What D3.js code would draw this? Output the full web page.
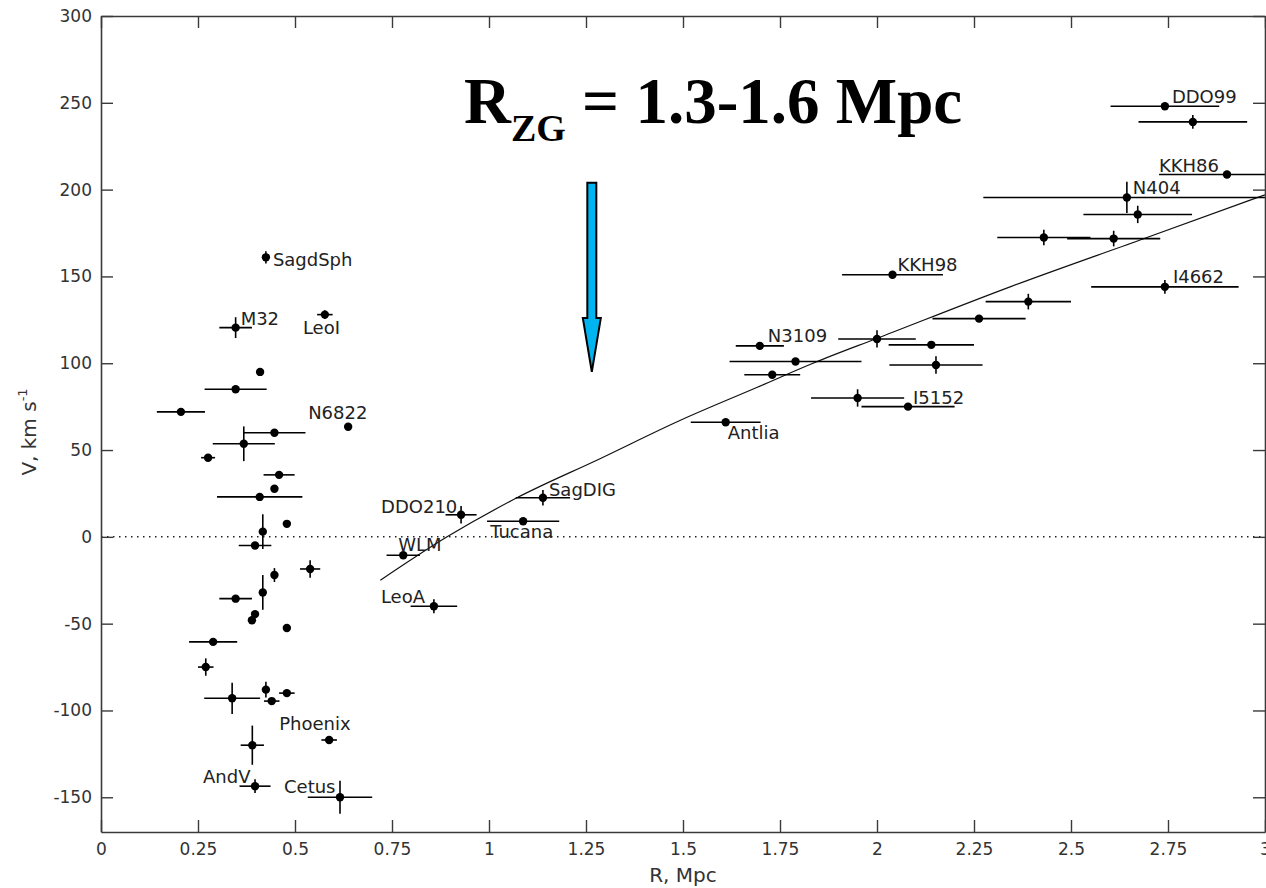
<!DOCTYPE html>
<html>
<head>
<meta charset="utf-8">
<script src="https://cdn.jsdelivr.net/npm/d3@7"></script>
<style>
  body { margin: 0; background: #fff; }
  .tick text { font-family: "DejaVu Sans", sans-serif; font-size: 17px; fill: #333; }
  .lbl { font-family: "DejaVu Sans", sans-serif; font-size: 18px; fill: #222; }
</style>
</head>
<body>
<svg id="chart"></svg>
<script>
// galaxies: name ("" = unnamed), distance R (Mpc), velocity V (km/s), half errors
const galaxyName = [
  "SagdSph", "M32", "LeoI", "", "", "", "N6822", "", "", "", "", "", "", "", "", "", "", "",
  "", "", "", "", "", "", "", "", "", "", "", "Phoenix", "", "AndV", "Cetus",
  "DDO210", "WLM", "LeoA", "SagDIG", "Tucana", "Antlia",
  "KKH98", "N3109", "", "", "", "", "", "", "I5152", "",
  "DDO99", "", "KKH86", "N404", "", "", "", "I4662", ""
]
const galaxyR = [
  0.425, 0.347, 0.577, 0.41, 0.347, 0.206, 0.637, 0.447, 0.368, 0.276, 0.459, 0.447, 0.409, 0.479, 0.417, 0.397, 0.539, 0.447,
  0.347, 0.417, 0.397, 0.389, 0.479, 0.289, 0.27, 0.338, 0.425, 0.44, 0.479, 0.588, 0.39, 0.397, 0.616,
  0.928, 0.779, 0.858, 1.139, 1.088, 1.61,
  2.04, 1.698, 1.79, 1.73, 2.0, 2.14, 2.152, 1.95, 2.08, 2.263,
  2.742, 2.814, 2.902, 2.644, 2.672, 2.43, 2.61, 2.742, 2.39
]
const galaxyV = [
  161, 120.5, 128, 95, 85, 72, 63.4, 60, 53.6, 45.6, 35.7, 27.7, 23, 7.5, 3, -5, -18.5, -22,
  -35.6, -32, -44.5, -48, -52.5, -60.5, -75, -93, -88, -94.6, -90, -117, -120, -143.6, -150,
  12.7, -10.6, -40, 22.5, 9, 66,
  151, 110, 101, 93.4, 114, 110.6, 99, 80, 75, 125.7,
  248, 239, 208.7, 195.5, 185.7, 172.4, 171.8, 144, 135.5
]
const errR = [
  0, 0.042, 0.02, 0, 0.08, 0.062, 0, 0.08, 0.08, 0.018, 0.04, 0, 0.11, 0, 0, 0.042, 0.026, 0,
  0.042, 0, 0, 0, 0, 0.062, 0.02, 0.072, 0, 0.02, 0.02, 0.02, 0.03, 0.04, 0.083,
  0.04, 0.043, 0.06, 0.07, 0.093, 0.09,
  0.13, 0.062, 0.17, 0.072, 0.1, 0.11, 0.12, 0.12, 0.12, 0.12,
  0.14, 0.14, 0.175, 0.37, 0.14, 0.12, 0.12, 0.19, 0.11
]
const errV = [
  3.5, 6, 2.5, 0, 0, 0, 0, 0, 10, 0, 0, 0, 0, 0, 10, 0, 5, 4,
  0, 10, 0, 0, 0, 0, 5, 9, 4.6, 0, 0, 0, 11.3, 4, 9.5,
  5, 0, 4, 4.5, 0, 0,
  0, 0, 0, 0, 5, 0, 5, 5, 0, 0,
  0, 4, 0, 9, 5, 4.5, 4.5, 4, 4.5
]

// model curve
const curveR = [0.72, 0.892, 1.072, 1.286, 1.492, 1.69, 1.835, 2.008, 2.343, 2.678, 3.0]
const curveV = [-25, 0, 22.5, 45, 67, 86, 100, 115, 144, 171, 197]

const xTicks = [0, 0.25, 0.5, 0.75, 1, 1.25, 1.5, 1.75, 2, 2.25, 2.5, 2.75, 3]
const yTicks = [-150, -100, -50, 0, 50, 100, 150, 200, 250, 300]

// label placement relative to the point, in pixels
const labelOffset = {
  SagdSph: [7, 9], M32: [5, -3], LeoI: [-22, 19], N6822: [-40, -8], Phoenix: [-50, -10],
  AndV: [-52, -3], Cetus: [-56, -4], DDO210: [-80, -2], WLM: [-5, -4], LeoA: [-53, -3],
  SagDIG: [6, -2], Tucana: [-33, 17], Antlia: [2, 17], KKH98: [5, -4], N3109: [8, -4],
  I5152: [5, -3], DDO99: [7, -3], KKH86: [-68, -3], N404: [6, -3], I4662: [8, -4]
}

const W = 1266, H = 888
const margin = { top: 16, right: 1, bottom: 56, left: 101 }

const svg = d3.select("#chart").attr("width", W).attr("height", H)

const x = d3.scaleLinear().domain([0, 3]).range([margin.left, W - margin.right])
const y = d3.scaleLinear().domain([-170, 300]).range([H - margin.bottom, margin.top])

const galaxies = galaxyR.map((r, i) => ({ name: galaxyName[i], r: r, v: galaxyV[i], er: errR[i], ev: errV[i] }))

svg.append("defs").append("clipPath").attr("id", "plot")
  .append("rect")
    .attr("x", x(0)).attr("y", y(300))
    .attr("width", x(3) - x(0)).attr("height", y(-170) - y(300))

const plot = svg.append("g").attr("clip-path", "url(#plot)")

// zero velocity line
plot.append("line")
  .attr("x1", x(0)).attr("x2", x(3))
  .attr("y1", y(0)).attr("y2", y(0))
  .attr("stroke", "#222").attr("stroke-width", 1.5)
  .attr("stroke-dasharray", "1.5,4.5")

// model curve
plot.append("path")
  .datum(curveR.map((r, i) => [r, curveV[i]]))
  .attr("fill", "none").attr("stroke", "#111").attr("stroke-width", 1.2)
  .attr("d", d3.line().curve(d3.curveMonotoneX).x(d => x(d[0])).y(d => y(d[1])))

// error bars
plot.selectAll(".ebx")
  .data(galaxies.filter(d => d.er > 0))
  .join("line")
    .attr("class", "ebx")
    .attr("x1", d => x(d.r - d.er)).attr("x2", d => x(d.r + d.er))
    .attr("y1", d => y(d.v)).attr("y2", d => y(d.v))
    .attr("stroke", "#000").attr("stroke-width", 1.6)

plot.selectAll(".eby")
  .data(galaxies.filter(d => d.ev > 0))
  .join("line")
    .attr("class", "eby")
    .attr("x1", d => x(d.r)).attr("x2", d => x(d.r))
    .attr("y1", d => y(d.v - d.ev)).attr("y2", d => y(d.v + d.ev))
    .attr("stroke", "#000").attr("stroke-width", 1.6)

plot.selectAll(".pt")
  .data(galaxies)
  .join("circle")
    .attr("class", "pt")
    .attr("cx", d => x(d.r)).attr("cy", d => y(d.v))
    .attr("r", 4.2)
    .attr("fill", "#000")

svg.selectAll(".lbl")
  .data(galaxies.filter(d => d.name))
  .join("text")
    .attr("class", "lbl")
    .attr("x", d => x(d.r) + labelOffset[d.name][0])
    .attr("y", d => y(d.v) + labelOffset[d.name][1])
    .text(d => d.name)

// axes, ticks inside on all four sides
const fmt = d => String(d)
const styleAxis = g => {
  g.attr("font-family", null).attr("font-size", null)
  g.select(".domain").attr("stroke", "#3a3a3a").attr("stroke-width", 1.6)
  g.selectAll(".tick line").attr("stroke", "#3a3a3a").attr("stroke-width", 1.4)
}

svg.append("g")
  .attr("transform", `translate(0, ${y(-170)})`)
  .call(d3.axisBottom(x).tickValues(xTicks).tickFormat(fmt).tickSize(-12).tickSizeOuter(0).tickPadding(11))
  .call(styleAxis)

svg.append("g")
  .attr("transform", `translate(0, ${y(300)})`)
  .call(d3.axisTop(x).tickValues(xTicks).tickFormat("").tickSize(-12).tickSizeOuter(0))
  .call(styleAxis)

svg.append("g")
  .attr("transform", `translate(${x(0)}, 0)`)
  .call(d3.axisLeft(y).tickValues(yTicks).tickFormat(fmt).tickSize(-12).tickSizeOuter(0).tickPadding(9))
  .call(styleAxis)

svg.append("g")
  .attr("transform", `translate(${x(3)}, 0)`)
  .call(d3.axisRight(y).tickValues(yTicks).tickFormat("").tickSize(-12).tickSizeOuter(0))
  .call(styleAxis)

// axis titles
svg.append("text")
  .attr("x", (x(0) + x(3)) / 2).attr("y", 882)
  .attr("text-anchor", "middle")
  .attr("font-family", "DejaVu Sans, sans-serif").attr("font-size", 20).attr("fill", "#333")
  .text("R, Mpc")

const yTitle = svg.append("text")
  .attr("transform", "translate(36, 432) rotate(-90)")
  .attr("text-anchor", "middle")
  .attr("font-family", "DejaVu Sans, sans-serif").attr("font-size", 20).attr("fill", "#333")
yTitle.append("tspan").text("V, km s")
yTitle.append("tspan").attr("font-size", 13).attr("dy", -9).text("-1")

// headline
const title = svg.append("text")
  .attr("x", 464).attr("y", 123)
  .attr("font-family", "Liberation Serif, Times New Roman, serif")
  .attr("font-weight", "bold").attr("font-size", 65).attr("fill", "#000")
title.append("tspan").text("R")
title.append("tspan").attr("font-size", 38).attr("dy", 18).text("ZG")
title.append("tspan").attr("dy", -18).text(" = 1.3-1.6 Mpc")

// arrow pointing at the zero-velocity radius
const ax = x(1.265), aTop = y(204), aHead = y(126), aTip = y(95)
svg.append("path")
  .attr("d", `M${ax - 4.5},${aTop} L${ax + 4.5},${aTop} L${ax + 4.5},${aHead} L${ax + 9},${aHead}
              L${ax},${aTip} L${ax - 9},${aHead} L${ax - 4.5},${aHead} Z`)
  .attr("fill", "#00b4f0").attr("stroke", "#000").attr("stroke-width", 2)
</script>
</body>
</html>
